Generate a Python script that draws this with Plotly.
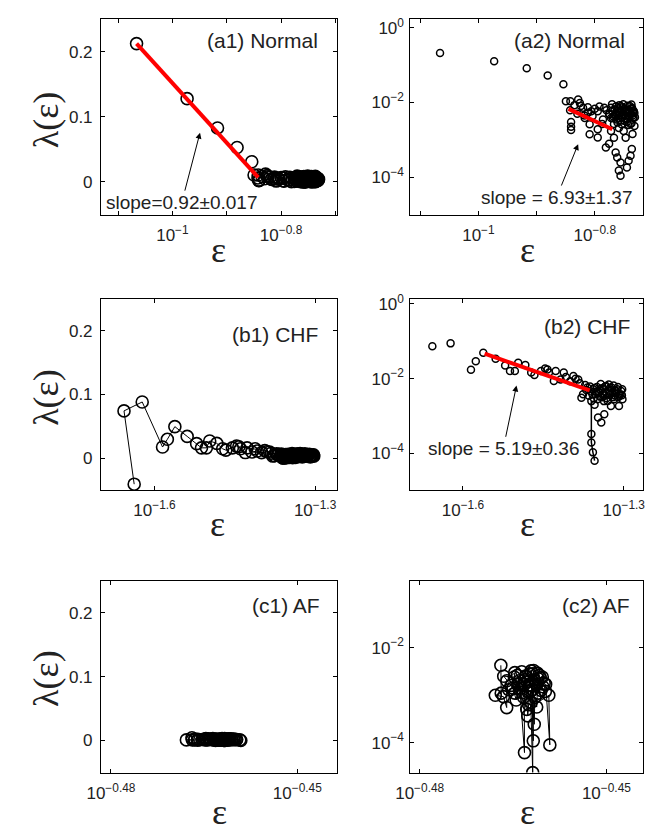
import plotly.graph_objects as go

# ---------------- data ----------------
# Normal: log10(epsilon) and lambda(epsilon)
normal_log_eps = [-1.066, -0.973, -0.917, -0.881, -0.854, -0.842,
                  -0.8497, -0.8425, -0.8408, -0.8408, -0.8408, -0.8286, -0.8257, -0.8202, -0.8118,
                  -0.8089, -0.8089, -0.7950, -0.7838, -0.7950, -0.7950, -0.7810, -0.7754, -0.7721,
                  -0.7671, -0.7620, -0.7587, -0.7553, -0.7520, -0.7486, -0.7453, -0.7419, -0.7386,
                  -0.7352, -0.7335, -0.7642, -0.7615, -0.7558, -0.7587, -0.7558, -0.7419, -0.7448,
                  -0.7364, -0.7386, -0.7721, -0.7671, -0.7503, -0.7704, -0.7872, -0.8039, -0.8173,
                  -0.7587, -0.7470, -0.7754, -0.7352, -0.7319,
                  -0.770, -0.765, -0.760, -0.757, -0.753, -0.750, -0.747, -0.744, -0.741, -0.738,
                  -0.736, -0.734, -0.733, -0.745, -0.755, -0.762, -0.768, -0.740, -0.737, -0.749,
                  -0.835, -0.830, -0.824, -0.818, -0.812, -0.806, -0.800, -0.792, -0.786, -0.780,
                  -0.775, -0.772, -0.769, -0.766, -0.763, -0.761, -0.758, -0.756, -0.754, -0.752,
                  -0.751, -0.748, -0.746, -0.743, -0.742, -0.739, -0.737, -0.735, -0.734, -0.732,
                  -0.731, -0.758, -0.751, -0.744, -0.737, -0.764, -0.742, -0.754, -0.761, -0.748]
normal_lambda = [0.2125, 0.128, 0.083, 0.053, 0.031, 0.0108,
                 0.0108, 0.00624, 0.0030, 0.00225, 0.00184, 0.0120, 0.00975, 0.00719, 0.0053,
                 0.0026, 0.00141, 0.00587, 0.00719, 0.00192, 0.00115, 0.00062, 0.00489, 0.00383,
                 0.00265, 0.00587, 0.00383, 0.00798, 0.00489, 0.00318, 0.00624, 0.00433, 0.00265,
                 0.00552, 0.00383, 0.000458, 0.000338, 0.000249, 0.00015, 0.00011, 0.000276, 0.000183,
                 0.000565, 0.000375, 0.00173, 0.00113, 0.00173, 0.00902, 0.00265, 0.00433, 0.00383,
                 0.00207, 0.00113, 0.00078, 0.00144, 0.00234,
                 0.0060, 0.0045, 0.0070, 0.0052, 0.0040, 0.0068, 0.0055, 0.0036, 0.0062, 0.0048,
                 0.0072, 0.0040, 0.0058, 0.0030, 0.0033, 0.0050, 0.0042, 0.0080, 0.0028, 0.0046,
                 0.0085, 0.0050, 0.0080, 0.0045, 0.0075, 0.0058, 0.0068, 0.0078, 0.0035, 0.0062,
                 0.0048, 0.0072, 0.0038, 0.0065, 0.0035, 0.0058, 0.0045, 0.0062, 0.0040, 0.0075,
                 0.0050, 0.0038, 0.0065, 0.0052, 0.0040, 0.0055, 0.0068, 0.0045, 0.0060, 0.0052,
                 0.0040, 0.0085, 0.0090, 0.0082, 0.0088, 0.0078, 0.0025, 0.0026, 0.0029, 0.0060]
normal_fit_lin_log_eps = [-1.066, -0.842]
normal_fit_lin_lambda = [0.2125, 0.007]
normal_fit_log_log_eps = [-0.8453, -0.7699]
normal_fit_log_lambda = [0.00676, 0.00192]

# CHF
chf_log_eps = [-1.638, -1.657, -1.623, -1.585, -1.576, -1.562, -1.539, -1.5213, -1.5122, -1.5031,
               -1.4969, -1.4836, -1.4727, -1.4667, -1.4545, -1.4467, -1.4395, -1.4304,
               -1.4424, -1.427, -1.412, -1.394, -1.385, -1.376, -1.379, -1.370, -1.365,
               -1.3605, -1.3605, -1.3605, -1.3576, -1.3545, -1.3545, -1.352, -1.348, -1.345,
               -1.342, -1.340, -1.3364, -1.333, -1.330, -1.327, -1.324, -1.321, -1.318, -1.315,
               -1.312, -1.309, -1.306, -1.303, -1.3355, -1.3455, -1.355, -1.3585, -1.326,
               -1.3165, -1.3105, -1.3025,
               -1.418, -1.408, -1.400, -1.390, -1.382, -1.372, -1.368, -1.363,
               -1.361, -1.357, -1.353, -1.350, -1.347, -1.344, -1.341, -1.338, -1.335, -1.332,
               -1.329, -1.326, -1.323, -1.320, -1.317, -1.314, -1.311, -1.308, -1.305, -1.3035,
               -1.349, -1.337, -1.328, -1.319, -1.343, -1.356]
chf_lambda = [-0.041, 0.074, 0.088, 0.0173, 0.0294, 0.0493, 0.034, 0.0226, 0.016, 0.016,
              0.0267, 0.0231, 0.0145, 0.0125, 0.016, 0.0188, 0.0145, 0.0086,
              0.0177, 0.0160, 0.0145, 0.0117, 0.0095, 0.0038, 0.0031, 0.0050, 0.0035,
              0.0025, 0.000327, 0.000196, 0.000106, 0.0000635, 0.0020, 0.00447, 0.00091, 0.00519,
              0.00067, 0.00316, 0.00112, 0.00635, 0.00251, 0.00398, 0.00186, 0.00427, 0.00282, 0.00467,
              0.00519, 0.00186, 0.0038, 0.00519, 0.00355, 0.00417, 0.00562, 0.0038, 0.00562,
              0.00355, 0.00316, 0.00282,
              0.0095, 0.0110, 0.0085, 0.0100, 0.0075, 0.0068, 0.0058, 0.0062,
              0.0045, 0.0052, 0.0038, 0.0060, 0.0044, 0.0033, 0.0055, 0.0040, 0.0062, 0.0030,
              0.0048, 0.0036, 0.0058, 0.0032, 0.0050, 0.0040, 0.0060, 0.0035, 0.0047, 0.0036,
              0.0028, 0.0025, 0.0070, 0.0066, 0.0072, 0.0030]
chf_stem_index = [27, 28, 29, 30, 31]
chf_fit_log_eps = [-1.5595, -1.3636]
chf_fit_lambda = [0.0465, 0.00488]

# AF
af_log_eps = [-0.46696, -0.46690, -0.46785, -0.46654, -0.46602, -0.4660, -0.46472, -0.4650, -0.4645,
              -0.4640, -0.46316, -0.4632, -0.4635, -0.46211, -0.4630, -0.46263, -0.4625, -0.4622,
              -0.46184, -0.4618, -0.46175, -0.4620, -0.46159, -0.4615, -0.4612, -0.4610, -0.4608,
              -0.4605, -0.4600, -0.45976, -0.45909, -0.45925, -0.4628, -0.4648, -0.4665,
              -0.4653, -0.4647, -0.4643, -0.4638, -0.4633, -0.4627, -0.4623, -0.4619, -0.4616,
              -0.4613, -0.4609, -0.4606, -0.4602, -0.4626, -0.4621, -0.4617, -0.4636, -0.4642,
              -0.4611, -0.4631, -0.4657, -0.4603, -0.4598, -0.4624]
af_lambda = [0.00424, 0.00110, 0.00099, 0.00093, 0.000546, 0.0020, 0.00298, 0.00141, 0.00079,
             0.0020, 0.0000615, 0.00166, 0.00112, 0.00323, 0.00251, 0.000365, 0.00063, 0.0012,
             0.0000233, 0.00282, 0.000109, 0.00158, 0.000243, 0.00089, 0.00056, 0.00224, 0.00263,
             0.00126, 0.00178, 0.00169, 0.0000895, 0.00099, 0.0005, 0.0024, 0.0025,
             0.0016, 0.0011, 0.0026, 0.0014, 0.0009, 0.0019, 0.0028, 0.0013, 0.0021,
             0.0017, 0.0011, 0.0023, 0.0015, 0.0012, 0.0007, 0.0033, 0.0031, 0.0017,
             0.0029, 0.0021, 0.0013, 0.0024, 0.0012, 0.0016]

# tick labels
a_xtick_exp = [-1.1, -1.0, -0.9, -0.8, -0.7]
a_xtick_text = [" ", "10<sup>\u22121</sup>", " ", "10<sup>\u22120.8</sup>", " "]
b_xtick_exp = [-1.6, -1.3]
b_xtick_text = ["10<sup>\u22121.6</sup>", "10<sup>\u22121.3</sup>"]
c_xtick_exp = [-0.48, -0.45]
c_xtick_text = ["10<sup>\u22120.48</sup>", "10<sup>\u22120.45</sup>"]
lin_ytick = [0, 0.1, 0.2]
lin_ytick_text = ["0", "0.1", "0.2"]
log_ytick_exp = [0, -2, -4]
log_ytick_text = ["10<sup>0</sup>", "10<sup>\u22122</sup>", "10<sup>\u22124</sup>"]

panel_labels = ["(a1) Normal", "(a2) Normal", "(b1) CHF", "(b2) CHF", "(c1) AF", "(c2) AF"]
slope_texts = ["slope=0.92\u00b10.017", "slope = 6.93\u00b11.37", "slope = 5.19\u00b10.36"]

# ---------------- figure ----------------
W, H = 649, 834
def fx(p): return p / W
def fy(p): return 1 - p / H

eps = lambda arr: [10 ** v for v in arr]

fig = go.Figure()
TICKFONT = dict(family="Liberation Sans, Arial, sans-serif", size=17, color="#222222")

def mk_trace(x, y, ax, size, mode, lw=1.0, mlw=1.6):
    return go.Scatter(x=x, y=y, mode=mode, xaxis=ax[0], yaxis=ax[1],
                      marker=dict(symbol="circle-open", size=size, color="black",
                                  line=dict(width=mlw, color="black")),
                      line=dict(color="black", width=lw), showlegend=False, hoverinfo="skip")

def red(x, y, ax):
    return go.Scatter(x=x, y=y, mode="lines", xaxis=ax[0], yaxis=ax[1],
                      line=dict(color="#ff0000", width=4), showlegend=False, hoverinfo="skip")

# a1
fig.add_trace(mk_trace(eps(normal_log_eps), normal_lambda, ("x", "y"), 12, "markers"))
fig.add_trace(red(eps(normal_fit_lin_log_eps), normal_fit_lin_lambda, ("x", "y")))
# a2
fig.add_trace(mk_trace(eps(normal_log_eps), normal_lambda, ("x2", "y2"), 7, "markers", mlw=1.5))
fig.add_trace(red(eps(normal_fit_log_log_eps), normal_fit_log_lambda, ("x2", "y2")))
# b1
fig.add_trace(mk_trace(eps(chf_log_eps), chf_lambda, ("x3", "y3"), 12, "lines+markers"))
# b2
fig.add_trace(mk_trace(eps(chf_log_eps), chf_lambda, ("x4", "y4"), 7, "markers", mlw=1.5))
fig.add_trace(go.Scatter(x=[10 ** chf_log_eps[i] for i in chf_stem_index],
                         y=[chf_lambda[i] for i in chf_stem_index], mode="lines",
                         xaxis="x4", yaxis="y4", line=dict(color="black", width=1.5),
                         showlegend=False, hoverinfo="skip"))
fig.add_trace(red(eps(chf_fit_log_eps), chf_fit_lambda, ("x4", "y4")))
# c1
fig.add_trace(mk_trace(eps(af_log_eps), af_lambda, ("x5", "y5"), 12, "lines+markers"))
# c2
fig.add_trace(mk_trace(eps(af_log_eps), af_lambda, ("x6", "y6"), 12, "lines+markers"))

XL = [fx(88.3), fx(330.7)]
XR = [fx(406), fx(645)]
Y1 = [fy(209.3), fy(12.3)]
Y2 = [fy(487.0), fy(294.2)]
Y3 = [fy(772.0), fy(578.5)]

def xax(dom, anchor, rng, exps, texts):
    return dict(domain=dom, anchor=anchor, type="log", range=rng,
                tickvals=[10 ** e for e in exps], ticktext=texts,
                ticks="inside", ticklen=4, tickcolor="black", tickwidth=1,
                showline=True, linecolor="black", linewidth=1, mirror="allticks",
                showgrid=False, zeroline=False, tickfont=TICKFONT, ticklabelstandoff=5)

def yax_lin(dom, anchor):
    return dict(domain=dom, anchor=anchor, range=[-0.05, 0.25],
                tickvals=lin_ytick, ticktext=lin_ytick_text,
                ticks="inside", ticklen=4, tickcolor="black", tickwidth=1,
                showline=True, linecolor="black", linewidth=1, mirror="allticks",
                showgrid=False, zeroline=False, tickfont=TICKFONT, ticklabelstandoff=4)

def yax_log(dom, anchor, rng):
    return dict(domain=dom, anchor=anchor, type="log", range=rng,
                tickvals=[10 ** e for e in log_ytick_exp], ticktext=log_ytick_text,
                ticks="inside", ticklen=4, tickcolor="black", tickwidth=1,
                showline=True, linecolor="black", linewidth=1, mirror="allticks",
                showgrid=False, zeroline=False, tickfont=TICKFONT, ticklabelstandoff=2)

fig.update_layout(
    width=W, height=H, margin=dict(l=0, r=0, t=0, b=0),
    paper_bgcolor="white", plot_bgcolor="white",
    xaxis=xax(XL, "y", [-1.1315, -0.697], a_xtick_exp, a_xtick_text),
    yaxis=yax_lin(Y1, "x"),
    xaxis2=xax(XR, "y2", [-1.117, -0.717], a_xtick_exp, a_xtick_text),
    yaxis2=yax_log(Y1, "x2", [-5.0, 0.23]),
    xaxis3=xax(XL, "y3", [-1.70, -1.259], b_xtick_exp, b_xtick_text),
    yaxis3=yax_lin(Y2, "x3"),
    xaxis4=xax(XR, "y4", [-1.698, -1.264], b_xtick_exp, b_xtick_text),
    yaxis4=yax_log(Y2, "x4", [-4.98, 0.14]),
    xaxis5=xax(XL, "y5", [-0.4816, -0.4436], c_xtick_exp, c_xtick_text),
    yaxis5=yax_lin(Y3, "x5"),
    xaxis6=xax(XR, "y6", [-0.4815, -0.4441], c_xtick_exp, c_xtick_text),
    yaxis6=yax_log(Y3, "x6", [-4.63, -0.59]),
)

ann = []
LABFONT = dict(family="Liberation Sans, Arial, sans-serif", size=21, color="#222222")
label_pos = [(313.3, 33.3), (628.3, 33.3), (313.3, 330.7), (633.3, 322.3), (315, 603.3), (633.3, 603.3)]
for t, (x, y) in zip(panel_labels, label_pos):
    ann.append(dict(text=t, x=fx(x), y=fy(y), xref="paper", yref="paper",
                    xanchor="right", yanchor="middle", showarrow=False, font=LABFONT))

SLFONT = dict(family="Liberation Sans, Arial, sans-serif", size=19, color="#222222")
arrows = [((190, 126.7), (171.7, 196.7)), ((578.3, 138.3), (556.7, 191.7)), ((515, 381.7), (501.7, 445))]
for t, (head, tail) in zip(slope_texts, arrows):
    ann.append(dict(text=t, x=fx(head[0]), y=fy(head[1]), xref="paper", yref="paper",
                    ax=tail[0] - head[0], ay=tail[1] - head[1], showarrow=True,
                    arrowhead=2, arrowsize=1.2, arrowwidth=1, arrowcolor="black", font=SLFONT))

TFONT = dict(family="Liberation Serif, Times New Roman, serif", size=36, color="#222222")
for (x, y) in [(209, 245), (526, 245), (208, 521), (526.7, 521)]:
    ann.append(dict(text="\u03b5", x=fx(x), y=fy(y), xref="paper", yref="paper",
                    xanchor="center", yanchor="middle", showarrow=False, font=TFONT))
for x in [210, 526.7]:
    ann.append(dict(text="\u03b5", x=fx(x), y=0, xref="paper", yref="paper",
                    xanchor="center", yanchor="bottom", showarrow=False, font=TFONT))
for y in [113.3, 393.3, 676.7]:
    ann.append(dict(text="\u03bb(\u03b5)", x=fx(31.7), y=fy(y), xref="paper", yref="paper",
                    xanchor="center", yanchor="middle", showarrow=False, textangle=-90, font=TFONT))
fig.update_layout(annotations=ann)

fig.write_html("out.html", config={"displayModeBar": False},
               post_script="document.body.style.margin='0';document.body.style.overflow='hidden';")
